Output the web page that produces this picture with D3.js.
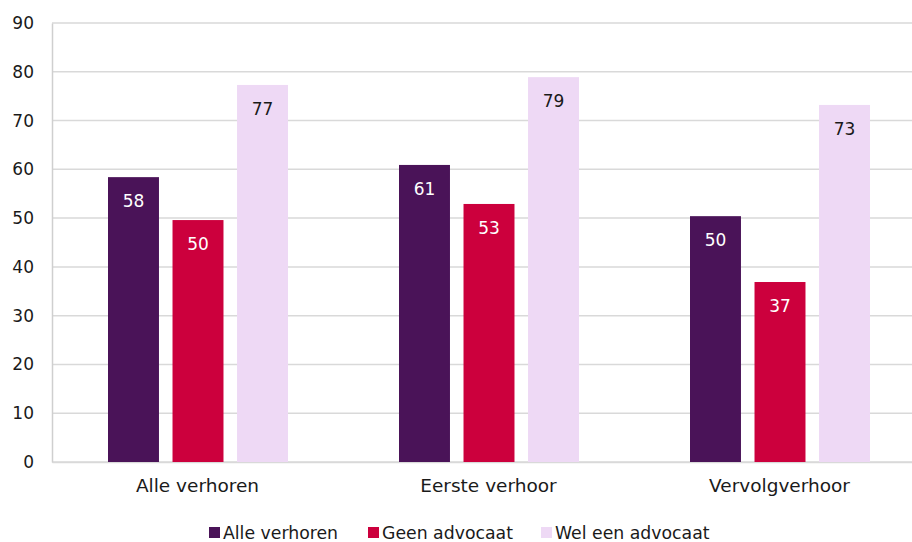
<!DOCTYPE html>
<html>
<head>
<meta charset="utf-8">
<script src="https://cdn.jsdelivr.net/npm/d3@7"></script>
<style>
  body { margin: 0; background: #fff; }
  svg { font-family: Verdana, "DejaVu Sans", sans-serif; }
</style>
</head>
<body>
<div class="chart"></div>
<script>
const categories = ["Alle verhoren", "Eerste verhoor", "Vervolgverhoor"];
const series = ["Alle verhoren", "Geen advocaat", "Wel een advocaat"];
const alleVerhoren = [58.4, 60.9, 50.4];
const geenAdvocaat = [49.6, 52.9, 36.9];
const welEenAdvocaat = [77.3, 78.9, 73.2];
const yTicks = [0, 10, 20, 30, 40, 50, 60, 70, 80, 90];

const values = [alleVerhoren, geenAdvocaat, welEenAdvocaat];
const colors = ["#4a1358", "#cc003d", "#eed9f5"];
const labelColors = ["#ffffff", "#ffffff", "#1a1a1a"];

const w = 912, h = 542;
const padL = 52, padR = 925, padT = 23, padB = 462;

const svg = d3.select(".chart").append("svg")
    .attr("width", w)
    .attr("height", h);

const y = d3.scaleLinear().domain([0, 90]).range([padB, padT]);
const x0 = d3.scaleBand().domain(categories).range([padL, padR]);
const x1 = d3.scaleBand().domain(series)
    .range([56, 236])
    .paddingInner(0.21)
    .paddingOuter(0);

// gridlines
svg.append("g")
    .selectAll("line")
    .data(yTicks)
    .enter()
    .append("line")
    .attr("x1", padL)
    .attr("x2", padR)
    .attr("y1", d => y(d))
    .attr("y2", d => y(d))
    .attr("stroke", "#d9d9d9")
    .attr("stroke-width", 1.5);

// y axis
const yAxis = d3.axisLeft(y).tickValues(yTicks).tickSize(0).tickPadding(18);
const yG = svg.append("g")
    .attr("transform", `translate(${padL},0)`)
    .call(yAxis);
yG.select(".domain").attr("stroke", "#cfcfcf").attr("stroke-width", 1.5);
yG.selectAll("text").attr("font-size", 17).attr("fill", "#1a1a1a")
    .attr("font-family", "Verdana, 'DejaVu Sans', sans-serif");

// x axis
const xAxis = d3.axisBottom(x0).tickSize(0).tickPadding(17);
const xG = svg.append("g")
    .attr("transform", `translate(0,${padB})`)
    .call(xAxis);
xG.select(".domain").attr("stroke", "#d9d9d9").attr("stroke-width", 1.5);
xG.selectAll("text").attr("font-size", 18.5).attr("fill", "#1a1a1a")
    .attr("font-family", "Verdana, 'DejaVu Sans', sans-serif");

// bars
const groups = svg.append("g")
    .selectAll("g")
    .data(categories)
    .enter()
    .append("g")
    .attr("transform", d => `translate(${x0(d)},0)`);

groups.selectAll("rect")
    .data((c, ci) => series.map((s, si) => ({ s, si, v: values[si][ci] })))
    .enter()
    .append("rect")
    .attr("x", d => x1(d.s))
    .attr("y", d => y(d.v))
    .attr("width", x1.bandwidth())
    .attr("height", d => y(0) - y(d.v))
    .attr("fill", d => colors[d.si]);

groups.selectAll("text")
    .data((c, ci) => series.map((s, si) => ({ s, si, v: values[si][ci] })))
    .enter()
    .append("text")
    .attr("x", d => x1(d.s) + x1.bandwidth() / 2)
    .attr("y", d => y(d.v) + 30)
    .attr("text-anchor", "middle")
    .attr("font-size", 17)
    .attr("fill", d => labelColors[d.si])
    .text(d => Math.round(d.v));

// legend
const legendX = [209, 368, 541];
const legend = svg.append("g")
    .selectAll("g")
    .data(series)
    .enter()
    .append("g")
    .attr("transform", (d, i) => `translate(${legendX[i]},527)`);
legend.append("rect")
    .attr("width", 11)
    .attr("height", 11)
    .attr("fill", (d, i) => colors[i]);
legend.append("text")
    .attr("x", 14)
    .attr("y", 12)
    .attr("font-size", 17.3)
    .attr("fill", "#1a1a1a")
    .text(d => d);
</script>
</body>
</html>
